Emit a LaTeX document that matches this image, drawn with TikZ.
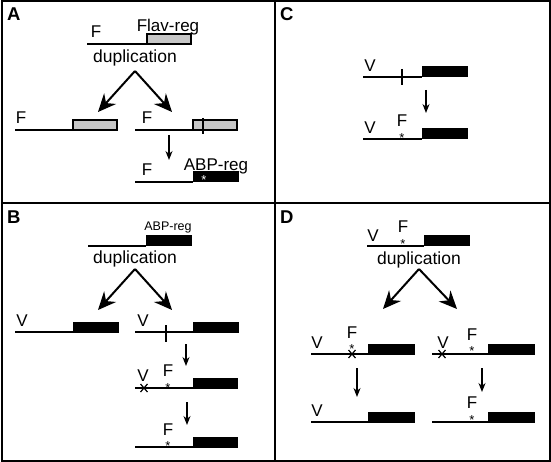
\documentclass[tikz,border=0pt]{standalone}
\usepackage{fontspec}
\setmainfont{Liberation Sans}
\usetikzlibrary{arrows.meta}
\tikzset{
  frame/.style={line width=2pt},
  gline/.style={line width=2pt, line cap=butt},
  greybox/.style={draw=black, line width=1.5pt, fill=black!22},
  blackbox/.style={draw=black, line width=1pt, fill=black},
  lbl/.style={font=\fontsize{17}{17}\selectfont, anchor=base, inner sep=0pt},
  smalllbl/.style={font=\fontsize{12.5}{12.5}\selectfont, anchor=base, inner sep=0pt},
  duptxt/.style={font=\fontsize{17.5}{17.5}\selectfont, anchor=base, inner sep=0pt},
  panellbl/.style={font=\bfseries\fontsize{18.5}{18.5}\selectfont, anchor=base west, inner sep=0pt},
  astk/.style={font=\fontsize{13}{13}\selectfont, anchor=base, inner sep=0pt},
  wastk/.style={astk, text=white},
  bigarrow/.style={line width=2pt, -{Stealth[length=18pt,width=16pt,inset=6pt]}},
  smallarrow/.style={line width=1.3pt, -{Stealth[length=9pt,width=7pt]}},
  tick/.style={line width=2pt},
  crossmark/.style={line width=1.2pt},
}
% gene: x-start, x-box, x-end, y-line, box style
\newcommand\gene[5]{%
  \draw[gline] (#1,#4) -- (#2,#4);
  \draw[#5] (#2,#4-10) rectangle (#3,#4);}
\newcommand\crs[2]{%
  \draw[crossmark] (#1-3.5,#2-4) -- (#1+3.5,#2+4) (#1-3.5,#2+4) -- (#1+3.5,#2-4);}
\begin{document}
\begin{tikzpicture}[x=1pt,y=-1pt]
\useasboundingbox (0,0) rectangle (551,462);
\fill[white] (0,0) rectangle (551,462);
% frame
\draw[frame] (1.5,1.5) rectangle (549.5,460.5);
\draw[frame] (275,1.5) -- (275,460.5);
\draw[frame] (1.5,203) -- (549.5,203);
% panel letters
\node[panellbl] (pA) at (7,21) {A};
\node[panellbl] (pB) at (7,224) {B};
\node[panellbl] (pC) at (280,21) {C};
\node[panellbl] (pD) at (280,224) {D};

% ---------------- Panel A ----------------
\gene{87}{147}{191}{44}{greybox}
\node[lbl] (aF0) at (96,38) {F};
\node[lbl] (aFlav) at (168,32) {Flav-reg};
\node[duptxt] (aDup) at (135,63) {duplication};
\coordinate (aS) at (135,71);
\coordinate (aL) at (98,112);
\coordinate (aR) at (172,112);
\draw[bigarrow] (aS) -- (aL);
\draw[bigarrow] (aS) -- (aR);
\gene{15}{73}{117}{130}{greybox}
\node[lbl] (aF1) at (21,124) {F};
\gene{135}{193}{237}{130}{greybox}
\node[lbl] (aF2) at (147,124) {F};
\draw[tick] (203,118) -- (203,134);
\coordinate (aA1) at (169,135);
\coordinate (aA2) at (169,160);
\draw[smallarrow] (aA1) -- (aA2);
\gene{135}{193}{238}{182}{blackbox}
\node[lbl] (aF3) at (147,176) {F};
\node[lbl] (aABP) at (216,171) {ABP-reg};
\node[wastk] (aStar) at (204,185) {*};

% ---------------- Panel C ----------------
\gene{363}{422}{467}{77}{blackbox}
\node[lbl] (cV1) at (370,72) {V};
\draw[tick] (402,69) -- (402,85);
\coordinate (cA1) at (426,90);
\coordinate (cA2) at (426,113);
\draw[smallarrow] (cA1) -- (cA2);
\gene{363}{422}{467}{139}{blackbox}
\node[lbl] (cV2) at (370,134) {V};
\node[lbl] (cF2) at (402,127) {F};
\node[astk] (cS2) at (402,142.5) {*};

% ---------------- Panel B ----------------
\node[smalllbl] (bABP) at (168,231) {ABP-reg};
\gene{88}{146}{191}{246}{blackbox}
\node[duptxt] (bDup) at (135,263) {duplication};
\coordinate (bS) at (135,269);
\coordinate (bL) at (98,310);
\coordinate (bR) at (172,310);
\draw[bigarrow] (bS) -- (bL);
\draw[bigarrow] (bS) -- (bR);
\gene{15}{73}{118}{332}{blackbox}
\node[lbl] (bV1) at (22,326) {V};
\gene{135}{193}{238}{332}{blackbox}
\node[lbl] (bV2) at (143,326) {V};
\draw[tick] (166,325) -- (166,342);
\coordinate (bA1) at (186,344);
\coordinate (bA2) at (186,366);
\draw[smallarrow] (bA1) -- (bA2);
\gene{135}{193}{237}{388}{blackbox}
\node[lbl] (bV3) at (143,381) {V};
\crs{144}{388}
\node[lbl] (bF3) at (168,376) {F};
\node[astk] (bS3) at (168,392.5) {*};
\coordinate (bA3) at (187,402);
\coordinate (bA4) at (187,425);
\draw[smallarrow] (bA3) -- (bA4);
\gene{135}{193}{237}{447}{blackbox}
\node[lbl] (bF4) at (168,435) {F};
\node[astk] (bS4) at (168,450.5) {*};

% ---------------- Panel D ----------------
\gene{367}{424}{469}{246}{blackbox}
\node[lbl] (dV0) at (373,241) {V};
\node[lbl] (dF0) at (403,233) {F};
\node[astk] (dS0) at (403,248.5) {*};
\node[duptxt] (dDup) at (419,264) {duplication};
\coordinate (dS) at (419,269);
\coordinate (dL) at (383,309);
\coordinate (dR) at (457,309);
\draw[bigarrow] (dS) -- (dL);
\draw[bigarrow] (dS) -- (dR);
\gene{311}{368}{414}{354}{blackbox}
\node[lbl] (dV1) at (317,348) {V};
\node[lbl] (dF1) at (352,338) {F};
\node[astk] (dS1) at (352,353.5) {*};
\crs{352}{354}
\gene{432}{488}{534}{354}{blackbox}
\node[lbl] (dV2) at (443,348) {V};
\crs{442}{354}
\node[lbl] (dF2) at (472,340) {F};
\node[astk] (dS2) at (472,355.5) {*};
\coordinate (dA1) at (357,368);
\coordinate (dA2) at (357,397);
\draw[smallarrow] (dA1) -- (dA2);
\coordinate (dA3) at (482,368);
\coordinate (dA4) at (482,392);
\draw[smallarrow] (dA3) -- (dA4);
\gene{311}{368}{414}{422}{blackbox}
\node[lbl] (dV3) at (317,416) {V};
\gene{432}{488}{534}{422}{blackbox}
\node[lbl] (dF3) at (472,408) {F};
\node[astk] (dS3) at (472,424.5) {*};
\end{tikzpicture}
\end{document}
